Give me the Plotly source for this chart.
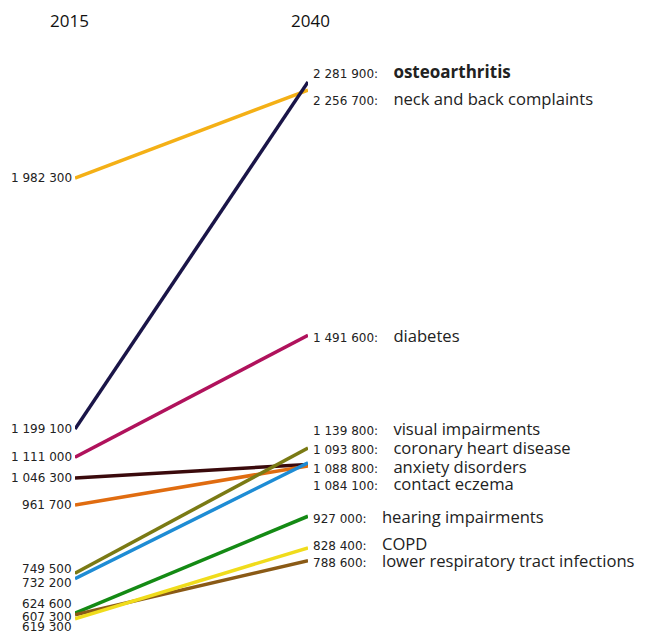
import plotly.graph_objects as go

years = ["2015", "2040"]
names = ["neck and back complaints", "diabetes", "anxiety disorders", "contact eczema",
         "visual impairments", "coronary heart disease", "hearing impairments",
         "lower respiratory tract infections", "COPD", "osteoarthritis"]
v2015 = [1982300, 1111000, 1046300, 961700, 749500, 732200, 624600, 619300, 607300, 1199100]
v2040 = [2256700, 1491600, 1088800, 1084100, 1139800, 1093800, 927000, 788600, 828400, 2281900]
colors = ["#F4B016", "#B0125C", "#3A0A0C", "#E06C10", "#7A7A14", "#1E8CD4",
          "#148A14", "#8A5A16", "#F0DC1C", "#1A1548"]
# label offsets (pixels, positive = up) to avoid overlap
left_shift = [0, 0, 0, 0, 4, -4, 9, -12, 2, 0]
right_shift = [-8, 0, -2, -18, 20, 15, 0, 0, 4, 10]

fig = go.Figure()
for i, n in enumerate(names):
    fig.add_trace(go.Scatter(x=[0, 1], y=[v2015[i], v2040[i]], mode="lines",
                             line=dict(color=colors[i], width=3.5), hoverinfo="skip",
                             showlegend=False))

def fmt(v):
    return f"{v:,}".replace(",", " ")

NUMFONT = "DejaVu Sans"
ann = []
for i, n in enumerate(names):
    ann.append(dict(x=0, y=v2015[i], xref="x", yref="y", text=fmt(v2015[i]),
                    xanchor="right", yanchor="middle", showarrow=False, xshift=-1,
                    yshift=left_shift[i], font=dict(family=NUMFONT, size=12, color="#222")))
    label = n if n != "osteoarthritis" else "<b>osteoarthritis</b>"
    fs = 17 if n == "osteoarthritis" else 16.6
    txt = (f"{fmt(v2040[i])}:\u00a0\u00a0\u00a0\u00a0"
           f"<span style='font-size:{fs}px;font-family:Open Sans'>{label}</span>")
    ann.append(dict(x=1, y=v2040[i], xref="x", yref="y", text=txt,
                    xanchor="left", yanchor="middle", showarrow=False, xshift=3,
                    yshift=right_shift[i], font=dict(family=NUMFONT, size=12, color="#222")))
for xv, s, yr in [(0, -6, years[0]), (1, 2, years[1])]:
    ann.append(dict(x=xv, y=1, xref="x", yref="paper", text=yr, showarrow=False,
                    xshift=s, yshift=20, yanchor="middle", xanchor="center",
                    font=dict(family="Open Sans", size=17, color="#111")))

fig.update_layout(
    width=648, height=633,
    margin=dict(l=67, r=348, t=32, b=0),
    plot_bgcolor="white", paper_bgcolor="white",
    xaxis=dict(range=[0, 1], visible=False, fixedrange=True),
    yaxis=dict(range=[537740, 2412860], visible=False, fixedrange=True),
    annotations=ann,
)
fig.write_html("out.html")
